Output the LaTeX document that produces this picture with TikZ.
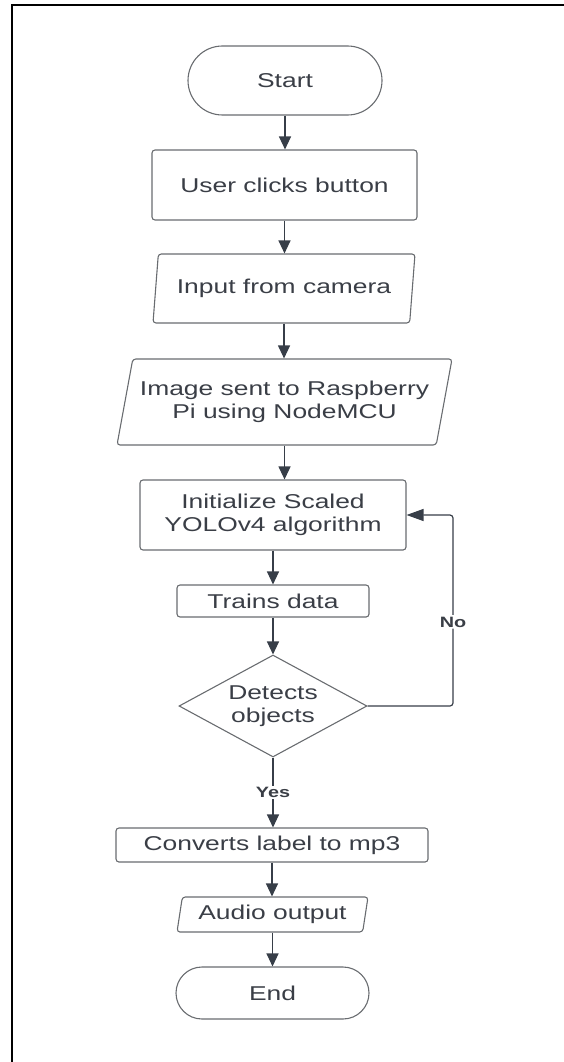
\documentclass[tikz,border=0pt]{standalone}
\usepackage{fontspec}
\setmainfont{Liberation Sans}[FakeStretch=1.32]
\usepackage{xcolor}
\usepackage{tikz}
\usetikzlibrary{shapes.geometric,shapes.misc,arrows.meta}

\definecolor{inktext}{RGB}{58,62,70}
\definecolor{edgegray}{RGB}{105,108,112}
\definecolor{arrowink}{RGB}{55,62,72}

\tikzset{
  base/.style={draw=edgegray, line width=1.1pt, text=inktext, align=center,
    font=\fontsize{20}{22.5}\selectfont, inner sep=0pt},
  terminal/.style={base, rounded rectangle},
  process/.style={base, rectangle, rounded corners=3pt},
  io/.style={base, trapezium, trapezium left angle=72, trapezium right angle=108,
    trapezium stretches body, rounded corners=3pt},
  decision/.style={base, diamond},
  flow/.style={draw=arrowink, line width=1.2pt, -{Triangle[length=13pt,width=12pt]}},
  answer/.style={fill=white, text=inktext, inner sep=1.5pt,
    font=\fontsize{15}{17}\selectfont\bfseries}
}

\begin{document}
\begin{tikzpicture}[x=1pt,y=-1pt]
  \useasboundingbox (0,0) rectangle (564,1062);

  % Frame (top and left edges only)
  \draw[line width=2.2pt] (12,1062) -- (12,5) -- (564,5);

  % Flowchart steps
  \node[terminal, minimum width=194pt, minimum height=69pt] (start) at (285,80.5) {Start};
  \node[process, minimum width=265pt, minimum height=70pt] (user) at (284.5,185) {User clicks button};
  \node[io, trapezium left angle=74, trapezium right angle=106,
    minimum width=262pt, minimum height=69pt] (input) at (284,288.5) {Input from camera};
  \node[io, trapezium left angle=69, trapezium right angle=111,
    minimum width=335pt, minimum height=86pt] (image) at (284.5,402) {Image sent to Raspberry\\Pi using NodeMCU};
  \node[process, minimum width=266pt, minimum height=70pt] (init) at (273,515) {Initialize Scaled\\YOLOv4 algorithm};
  \node[process, minimum width=192pt, minimum height=32pt] (trains) at (273,601) {Trains data};
  \node[decision, minimum width=188pt, minimum height=102pt, aspect=1.84] (dec) at (273,706) {Detects\\objects};
  \node[process, minimum width=312pt, minimum height=34pt] (conv) at (272,845) {Converts label to mp3};
  \node[io, trapezium left angle=74, trapezium right angle=106,
    minimum width=191pt, minimum height=35pt] (audio) at (272.5,914.5) {Audio output};
  \node[terminal, minimum width=193pt, minimum height=52pt] (stop) at (272.5,993) {End};

  % Straight arrows down the column
  \foreach \a/\b in {start/user, user/input, input/image, image/init,
                     init/trains, trains/dec, conv/audio, audio/stop} {
    \draw[flow] (\a.south) -- (\a.south |- \b.north);
  }

  % Decision branches
  \draw[flow] (dec.south) -- node[answer] {Yes} (dec.south |- conv.north);
  \coordinate (back) at (453,515);
  \draw[flow, rounded corners=3pt, -{Triangle[length=17pt,width=12pt]}]
    (dec.east) -| node[answer, pos=0.72] {No} (back) -- (init.east);
\end{tikzpicture}
\end{document}
